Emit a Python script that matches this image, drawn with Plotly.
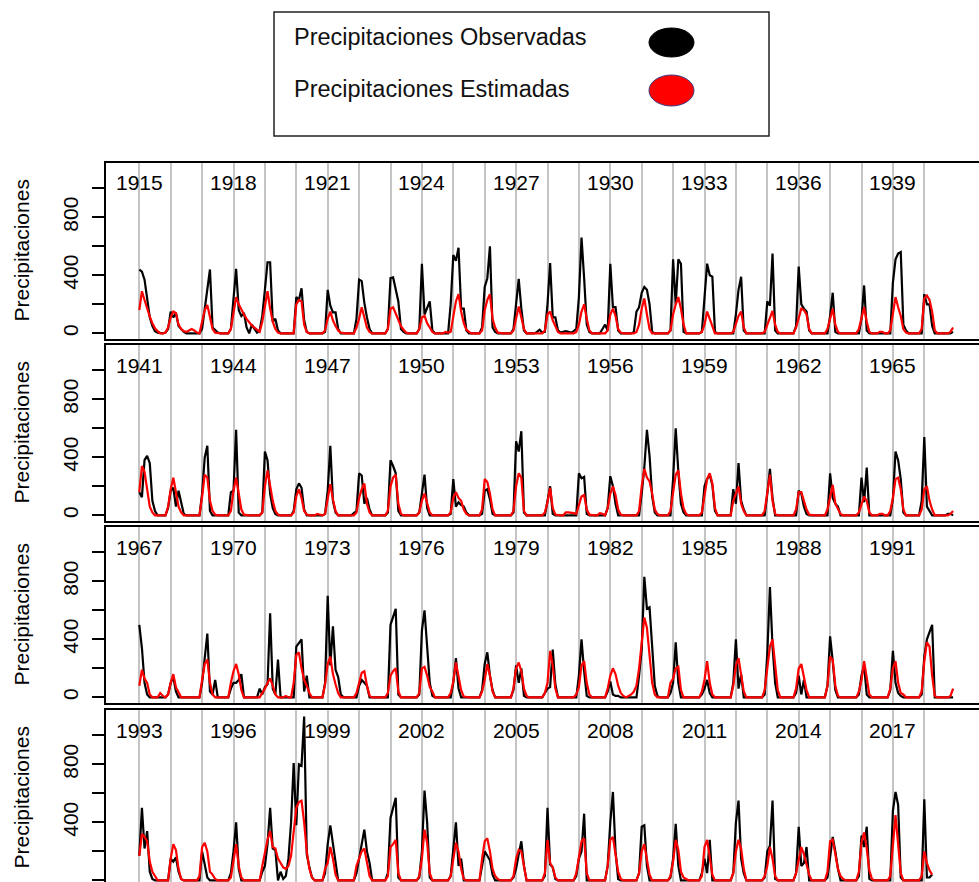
import plotly.graph_objects as go

# ---------------- data (monthly, Jan..Dec per row) ----------------
obs_1915_1940 = [
    440, 425, 370, 220, 110, 50, 15, 5, 0, 0, 5, 30,
    150, 110, 140, 50, 30, 10, 0, 0, 0, 0, 0, 0,
    30, 180, 300, 440, 40, 20, 5, 0, 0, 5, 0, 30,
    220, 445, 160, 120, 140, 40, 0, 60, 30, 5, 20, 120,
    300, 490, 490, 80, 100, 20, 0, 0, 0, 0, 0, 0,
    250, 230, 310, 90, 10, 0, 0, 0, 0, 0, 0, 10,
    300, 190, 145, 145, 30, 0, 0, 0, 0, 0, 0, 100,
    370, 360, 210, 110, 30, 0, 0, 0, 0, 0, 0, 30,
    380, 385, 300, 220, 30, 10, 0, 0, 0, 0, 0, 30,
    480, 130, 180, 220, 20, 0, 0, 0, 0, 0, 0, 200,
    540, 500, 590, 170, 170, 20, 0, 0, 0, 0, 0, 40,
    320, 380, 600, 40, 10, 0, 0, 0, 0, 0, 0, 30,
    210, 375, 170, 20, 0, 0, 0, 0, 10, 25, 5, 10,
    200, 485, 110, 110, 20, 5, 10, 15, 10, 5, 15, 30,
    250, 660, 380, 60, 10, 0, 0, 0, 0, 30, 60, 20,
    480, 180, 180, 20, 0, 0, 0, 0, 0, 10, 150, 180,
    280, 320, 300, 200, 10, 0, 0, 0, 0, 0, 0, 20,
    510, 200, 510, 480, 10, 0, 0, 0, 0, 0, 0, 10,
    250, 480, 400, 390, 10, 0, 0, 0, 0, 0, 0, 0,
    130, 300, 390, 20, 0, 0, 0, 0, 0, 0, 0, 0,
    220, 190, 550, 20, 0, 0, 0, 0, 0, 0, 0, 50,
    460, 200, 170, 150, 20, 0, 0, 0, 0, 0, 0, 0,
    120, 280, 10, 0, 0, 0, 0, 0, 0, 0, 0, 0,
    100, 330, 20, 0, 0, 0, 0, 0, 0, 0, 0, 0,
    350, 510, 550, 560, 60, 20, 0, 0, 0, 0, 0, 0,
    270, 200, 200, 50, 0, 0, 0, 0, 0, 0, 0, 10,
]
est_1915_1940 = [
    160, 290, 230, 170, 115, 70, 35, 15, 0, 0, 5, 40,
    110, 150, 140, 60, 30, 15, 10, 20, 30, 20, 5, 0,
    70, 160, 195, 100, 30, 5, 0, 0, 0, 0, 0, 30,
    150, 250, 200, 160, 130, 100, 75, 55, 40, 25, 10, 80,
    200, 290, 170, 80, 30, 5, 0, 0, 0, 0, 0, 0,
    200, 230, 220, 60, 10, 0, 0, 0, 0, 0, 0, 20,
    100, 150, 90, 50, 20, 5, 0, 0, 0, 0, 0, 40,
    100, 180, 100, 40, 10, 0, 0, 0, 0, 0, 0, 30,
    170, 180, 140, 90, 50, 25, 5, 0, 0, 0, 0, 30,
    110, 120, 70, 40, 10, 0, 0, 0, 0, 10, 5, 10,
    110, 220, 270, 150, 70, 25, 10, 0, 0, 0, 0, 20,
    160, 230, 270, 100, 40, 5, 0, 0, 0, 0, 0, 20,
    110, 185, 110, 30, 0, 0, 0, 0, 0, 0, 0, 20,
    130, 150, 90, 50, 10, 0, 0, 0, 0, 0, 0, 10,
    60, 150, 200, 100, 20, 0, 0, 0, 0, 0, 0, 20,
    130, 170, 120, 30, 5, 0, 0, 0, 0, 0, 10, 60,
    170, 240, 130, 30, 0, 0, 0, 0, 0, 0, 0, 20,
    130, 200, 250, 170, 60, 0, 0, 0, 0, 0, 0, 10,
    60, 150, 100, 40, 0, 0, 0, 0, 0, 0, 0, 10,
    60, 120, 150, 40, 0, 0, 0, 0, 0, 0, 0, 10,
    60, 100, 155, 60, 10, 0, 0, 0, 0, 0, 0, 40,
    100, 170, 160, 130, 30, 0, 0, 0, 0, 0, 0, 30,
    110, 170, 60, 10, 0, 0, 0, 0, 0, 0, 0, 30,
    100, 180, 80, 10, 0, 0, 0, 10, 10, 0, 0, 20,
    150, 250, 180, 120, 30, 5, 0, 0, 0, 0, 0, 30,
    240, 260, 230, 150, 20, 0, 0, 0, 0, 0, 10, 40,
]
obs_1941_1966 = [
    160, 125, 380, 410, 360, 100, 30, 0, 0, 0, 0, 50,
    170, 190, 60, 170, 100, 10, 0, 0, 0, 0, 0, 0,
    150, 400, 480, 30, 0, 0, 0, 0, 0, 0, 0, 160,
    170, 590, 20, 0, 0, 0, 0, 0, 0, 0, 0, 20,
    440, 380, 150, 50, 10, 0, 0, 0, 0, 0, 0, 30,
    180, 220, 190, 40, 0, 0, 0, 0, 0, 0, 0, 10,
    170, 480, 100, 20, 0, 0, 0, 0, 0, 0, 15, 30,
    290, 275, 80, 120, 40, 0, 0, 0, 0, 0, 0, 20,
    380, 340, 290, 30, 0, 0, 0, 0, 0, 0, 0, 20,
    150, 280, 50, 0, 0, 0, 0, 0, 0, 0, 0, 10,
    250, 60, 90, 70, 60, 20, 0, 0, 0, 0, 0, 10,
    170, 180, 110, 10, 0, 0, 0, 0, 0, 0, 0, 20,
    510, 440, 580, 20, 0, 0, 0, 0, 0, 0, 0, 0,
    100, 200, 10, 0, 0, 0, 0, 0, 0, 0, 0, 0,
    290, 255, 265, 10, 0, 0, 0, 0, 0, 0, 0, 50,
    270, 200, 80, 0, 0, 0, 0, 0, 0, 0, 0, 0,
    150, 330, 590, 410, 130, 20, 0, 0, 0, 0, 0, 0,
    250, 600, 300, 80, 20, 0, 0, 0, 0, 0, 0, 0,
    200, 250, 280, 210, 30, 0, 0, 0, 0, 0, 0, 180,
    80, 360, 100, 40, 0, 0, 0, 0, 0, 0, 0, 0,
    150, 320, 120, 0, 0, 0, 0, 0, 0, 0, 0, 0,
    170, 150, 60, 10, 0, 0, 0, 0, 0, 0, 0, 0,
    290, 120, 80, 60, 0, 0, 0, 0, 0, 0, 0, 0,
    260, 90, 330, 0, 0, 0, 0, 0, 0, 0, 0, 0,
    110, 440, 380, 250, 20, 0, 0, 0, 0, 0, 0, 100,
    540, 60, 30, 0, 0, 0, 0, 0, 0, 10, 10, 0,
]
est_1941_1966 = [
    160, 340, 300, 170, 60, 20, 0, 0, 0, 0, 0, 60,
    180, 260, 150, 60, 20, 0, 0, 0, 0, 0, 0, 0,
    130, 280, 260, 100, 30, 5, 0, 0, 0, 0, 0, 30,
    170, 260, 150, 40, 5, 0, 0, 0, 0, 0, 0, 20,
    200, 310, 200, 100, 30, 5, 0, 0, 0, 0, 0, 20,
    130, 180, 120, 30, 5, 0, 0, 0, 10, 5, 0, 10,
    120, 215, 110, 30, 0, 0, 0, 0, 0, 0, 0, 20,
    120, 180, 220, 80, 20, 0, 0, 0, 0, 0, 0, 30,
    200, 260, 280, 80, 10, 0, 0, 0, 0, 0, 0, 20,
    100, 150, 80, 20, 0, 0, 0, 0, 0, 0, 0, 20,
    120, 160, 120, 100, 40, 10, 0, 0, 0, 0, 0, 40,
    250, 230, 150, 40, 0, 0, 0, 0, 0, 0, 0, 30,
    200, 290, 260, 30, 0, 0, 0, 0, 0, 0, 0, 20,
    90, 190, 50, 5, 0, 0, 0, 20, 20, 20, 15, 10,
    80, 130, 140, 40, 5, 0, 0, 0, 15, 10, 0, 50,
    150, 200, 140, 40, 5, 0, 0, 0, 0, 0, 0, 30,
    200, 320, 260, 235, 150, 40, 10, 0, 0, 0, 0, 30,
    150, 280, 310, 150, 50, 10, 0, 0, 0, 0, 0, 20,
    140, 250, 290, 220, 50, 0, 0, 0, 0, 0, 0, 100,
    150, 200, 80, 30, 0, 0, 0, 0, 0, 0, 0, 30,
    140, 280, 100, 10, 0, 0, 0, 0, 0, 0, 0, 40,
    160, 160, 100, 40, 5, 0, 0, 0, 0, 0, 0, 40,
    120, 210, 80, 50, 10, 0, 0, 0, 0, 0, 0, 20,
    80, 130, 100, 20, 0, 0, 0, 10, 10, 0, 0, 30,
    120, 250, 260, 180, 40, 0, 0, 0, 0, 0, 0, 40,
    180, 200, 100, 40, 0, 0, 0, 0, 0, 0, 10, 30,
]
obs_1967_1992 = [
    500, 340, 100, 20, 0, 0, 0, 0, 5, 0, 0, 20,
    100, 140, 40, 0, 0, 0, 0, 0, 0, 0, 0, 0,
    100, 280, 440, 40, 20, 120, 0, 0, 0, 0, 0, 60,
    100, 100, 120, 160, 0, 0, 0, 0, 0, 0, 60, 20,
    70, 90, 580, 60, 20, 260, 0, 0, 0, 0, 0, 0,
    350, 380, 400, 40, 150, 0, 0, 0, 0, 0, 0, 100,
    700, 220, 490, 190, 140, 20, 0, 0, 0, 0, 0, 0,
    80, 120, 100, 80, 0, 0, 0, 0, 0, 0, 0, 0,
    500, 560, 610, 20, 0, 0, 0, 0, 0, 0, 0, 20,
    460, 600, 350, 100, 10, 0, 0, 0, 0, 0, 0, 0,
    100, 270, 60, 0, 0, 0, 0, 0, 0, 0, 0, 50,
    230, 310, 150, 50, 0, 0, 0, 0, 0, 0, 0, 50,
    220, 100, 200, 10, 0, 0, 0, 0, 0, 0, 0, 30,
    60, 70, 330, 90, 0, 0, 0, 0, 0, 0, 0, 0,
    150, 400, 180, 10, 0, 0, 0, 0, 0, 0, 0, 40,
    110, 20, 10, 10, 0, 0, 0, 0, 0, 0, 0, 150,
    330, 830, 610, 620, 350, 80, 10, 0, 0, 0, 0, 30,
    100, 380, 100, 0, 0, 0, 0, 0, 0, 0, 0, 20,
    60, 120, 30, 0, 0, 0, 0, 0, 0, 0, 0, 100,
    400, 60, 160, 0, 0, 0, 0, 0, 0, 0, 0, 20,
    300, 760, 350, 100, 0, 0, 0, 0, 0, 0, 0, 30,
    150, 20, 120, 0, 0, 0, 0, 0, 0, 0, 0, 80,
    420, 250, 50, 0, 0, 0, 0, 0, 0, 0, 0, 20,
    150, 220, 20, 0, 0, 0, 0, 0, 0, 0, 0, 50,
    320, 100, 30, 10, 0, 0, 0, 0, 0, 0, 0, 20,
    280, 400, 450, 500, 0, 0, 0, 0, 0, 0, 0, 0,
]
est_1967_1992 = [
    80, 190, 130, 100, 20, 0, 0, 0, 30, 10, 0, 20,
    100, 160, 70, 30, 0, 0, 0, 0, 0, 0, 0, 0,
    120, 230, 260, 100, 20, 0, 0, 0, 0, 0, 0, 100,
    180, 230, 160, 50, 0, 0, 0, 0, 0, 0, 0, 30,
    60, 100, 130, 80, 20, 0, 0, 0, 10, 0, 0, 100,
    290, 310, 200, 120, 80, 30, 0, 0, 0, 0, 0, 90,
    230, 280, 160, 90, 30, 0, 0, 0, 0, 0, 0, 30,
    100, 170, 180, 80, 10, 0, 0, 0, 0, 0, 0, 30,
    150, 180, 200, 40, 0, 0, 0, 0, 0, 0, 0, 30,
    200, 210, 150, 70, 40, 0, 0, 0, 0, 0, 0, 30,
    110, 240, 140, 50, 5, 0, 0, 0, 0, 0, 0, 40,
    120, 230, 150, 40, 0, 0, 0, 0, 0, 0, 0, 60,
    200, 240, 180, 60, 10, 0, 0, 0, 0, 0, 0, 30,
    100, 320, 220, 60, 0, 0, 0, 0, 0, 0, 0, 20,
    70, 220, 250, 100, 20, 0, 0, 0, 0, 0, 0, 60,
    150, 200, 160, 80, 30, 10, 0, 10, 20, 40, 80, 200,
    400, 550, 480, 300, 100, 20, 0, 0, 0, 0, 0, 100,
    130, 200, 210, 50, 0, 0, 0, 0, 0, 0, 0, 40,
    120, 250, 100, 20, 0, 0, 0, 0, 0, 0, 0, 80,
    220, 270, 150, 40, 0, 0, 0, 0, 0, 0, 0, 50,
    200, 350, 400, 200, 50, 0, 0, 0, 0, 0, 0, 60,
    200, 230, 150, 50, 0, 0, 0, 0, 0, 0, 0, 80,
    280, 260, 80, 10, 0, 0, 0, 0, 0, 0, 0, 40,
    120, 250, 120, 20, 0, 0, 0, 0, 0, 0, 0, 60,
    200, 250, 100, 30, 20, 0, 0, 0, 0, 0, 0, 40,
    250, 380, 350, 150, 10, 0, 0, 0, 0, 0, 10, 60,
]
obs_1993_2018 = [
    170, 500, 220, 340, 60, 10, 0, 0, 0, 0, 0, 0,
    150, 130, 160, 60, 10, 0, 0, 0, 0, 0, 0, 0,
    200, 100, 20, 0, 0, 0, 0, 0, 0, 0, 0, 50,
    200, 400, 80, 0, 0, 0, 0, 0, 0, 0, 0, 60,
    100, 250, 500, 220, 210, 0, 60, 10, 30, 150, 400, 810,
    380, 800, 790, 1130, 180, 90, 20, 0, 0, 0, 0, 50,
    250, 380, 250, 100, 0, 0, 0, 0, 0, 0, 0, 50,
    150, 250, 350, 200, 120, 0, 0, 0, 0, 0, 0, 50,
    430, 500, 570, 20, 0, 0, 0, 0, 0, 0, 0, 20,
    200, 620, 400, 20, 0, 0, 0, 0, 0, 0, 0, 30,
    200, 400, 100, 150, 0, 0, 0, 0, 0, 0, 0, 100,
    200, 170, 140, 40, 0, 0, 0, 0, 0, 0, 0, 20,
    80, 180, 270, 100, 0, 0, 0, 0, 0, 0, 0, 30,
    500, 110, 90, 10, 0, 0, 0, 0, 0, 0, 0, 30,
    150, 200, 460, 0, 0, 0, 0, 0, 0, 0, 0, 100,
    400, 610, 200, 10, 0, 0, 0, 0, 0, 0, 0, 50,
    370, 380, 100, 0, 0, 0, 0, 0, 0, 0, 0, 20,
    150, 390, 100, 0, 0, 0, 0, 0, 0, 0, 0, 50,
    150, 50, 280, 0, 0, 0, 0, 0, 0, 0, 0, 50,
    400, 550, 150, 50, 0, 0, 0, 0, 0, 0, 0, 20,
    200, 240, 550, 10, 0, 0, 0, 0, 0, 0, 0, 50,
    370, 100, 120, 230, 0, 0, 0, 0, 0, 0, 0, 20,
    150, 300, 200, 80, 0, 0, 0, 0, 0, 0, 0, 30,
    310, 230, 370, 10, 0, 0, 0, 0, 0, 0, 0, 0,
    480, 610, 520, 20, 0, 0, 0, 0, 0, 0, 0, 0,
    560, 20, 20, 40,
]
est_1993_2018 = [
    170, 320, 300, 270, 130, 60, 30, 0, 0, 0, 0, 0,
    150, 250, 210, 80, 10, 0, 0, 0, 0, 0, 0, 30,
    230, 260, 200, 60, 40, 10, 0, 0, 0, 0, 0, 20,
    140, 250, 100, 20, 0, 0, 0, 0, 0, 0, 0, 100,
    200, 280, 340, 230, 220, 150, 120, 90, 80, 100, 170, 350,
    500, 540, 550, 400, 200, 80, 20, 0, 0, 0, 0, 80,
    120, 230, 150, 40, 0, 0, 0, 0, 0, 0, 0, 100,
    150, 200, 220, 120, 30, 0, 0, 0, 0, 0, 0, 30,
    230, 250, 280, 50, 0, 0, 0, 0, 0, 0, 0, 30,
    150, 350, 260, 50, 0, 0, 0, 0, 0, 0, 0, 30,
    150, 260, 200, 80, 10, 0, 0, 0, 0, 0, 0, 150,
    270, 290, 200, 80, 30, 10, 0, 0, 0, 0, 0, 30,
    150, 210, 200, 100, 0, 0, 0, 0, 0, 0, 0, 50,
    280, 120, 90, 20, 0, 0, 0, 0, 0, 0, 0, 50,
    150, 270, 290, 50, 0, 0, 0, 0, 0, 0, 0, 100,
    280, 300, 180, 60, 10, 0, 0, 0, 0, 0, 0, 50,
    200, 250, 140, 40, 0, 0, 0, 0, 0, 0, 0, 30,
    130, 280, 210, 60, 20, 10, 0, 0, 0, 0, 0, 30,
    230, 280, 150, 40, 0, 0, 0, 0, 0, 0, 0, 50,
    200, 280, 220, 80, 0, 0, 0, 0, 0, 0, 0, 30,
    100, 230, 150, 30, 0, 0, 0, 0, 0, 0, 0, 50,
    150, 230, 180, 100, 40, 0, 0, 0, 0, 0, 0, 60,
    270, 280, 180, 80, 30, 10, 0, 0, 0, 0, 0, 60,
    260, 330, 220, 70, 10, 0, 0, 0, 0, 0, 0, 30,
    250, 450, 250, 50, 0, 0, 0, 0, 0, 0, 0, 30,
    200, 120, 70, 40,
]

start_years = [1915, 1941, 1967, 1993]
y_ticks = [0, 200, 400, 600, 800, 1000]
y_ticklabels = ["0", "", "400", "", "800", ""]
legend_labels = ["Precipitaciones Observadas", "Precipitaciones Estimadas"]
y_title = "Precipitaciones"

# ---------------- figure ----------------
W, H = 979, 882
FONT = "Liberation Sans, Arial, sans-serif"
panels = [
    (start_years[0], obs_1915_1940, est_1915_1940),
    (start_years[1], obs_1941_1966, est_1941_1966),
    (start_years[2], obs_1967_1992, est_1967_1992),
    (start_years[3], obs_1993_2018, est_1993_2018),
]
px_rows = [(163, 339), (345, 521), (527, 703), (710, 882)]
y_ranges = [[-39, 1174], [-39, 1174], [-39, 1174], [-11, 1175]]
x_left_px = 106
px_per_year = 31.4

fig = go.Figure()
layout = dict(
    width=W, height=H,
    margin=dict(l=0, r=0, t=0, b=0),
    paper_bgcolor="white", plot_bgcolor="white",
    showlegend=False,
    font=dict(family=FONT, size=21, color="black"),
)
annotations = []
shapes = []

for i, (y0, obs, est) in enumerate(panels):
    n = i + 1
    sfx = "" if n == 1 else str(n)
    xa, ya = "x" + sfx, "y" + sfx
    xs = [y0 + k / 12 for k in range(len(obs))]
    fig.add_trace(go.Scatter(x=xs, y=obs, mode="lines",
                             line=dict(color="black", width=2.2),
                             xaxis=xa, yaxis=ya, name=legend_labels[0]))
    fig.add_trace(go.Scatter(x=xs, y=est, mode="lines",
                             line=dict(color="red", width=2.2),
                             xaxis=xa, yaxis=ya, name=legend_labels[1]))
    top, bot = px_rows[i]
    dom = [1 - bot / H, 1 - top / H]
    x_start = y0 - (139.3 - x_left_px) / px_per_year
    x_end = y0 + (W - 139.3) / px_per_year
    last_year = int(xs[-1])
    layout["xaxis" + sfx] = dict(
        domain=[x_left_px / W, 1], range=[x_start, x_end], anchor=ya,
        tickvals=list(range(y0, last_year + 1)), showticklabels=False, ticks="",
        showgrid=True, gridcolor="#C4C4C4", gridwidth=2,
        showline=True, mirror=True, linecolor="black", linewidth=2,
        zeroline=False, fixedrange=True,
    )
    layout["yaxis" + sfx] = dict(
        domain=dom, range=y_ranges[i], anchor=xa,
        tickvals=y_ticks, ticktext=y_ticklabels, tickangle=-90,
        ticks="outside", ticklen=12, tickwidth=2, tickcolor="black",
        tickfont=dict(size=21, family=FONT, color="black"),
        ticklabelstandoff=6,
        showline=True, linecolor="black", linewidth=2,
        showgrid=False, zeroline=False,
    )
    ph = bot - top
    for yr in range(y0, y0 + 25, 3):
        annotations.append(dict(
            x=yr, y=1 - 20 / ph, xref=xa, yref=ya + " domain",
            text=str(yr), showarrow=False, xanchor="center", yanchor="middle",
            font=dict(size=21, family=FONT, color="black"),
        ))
    cy = (top + top + 176) / 2
    annotations.append(dict(
        x=20.5 / W, y=1 - cy / H, xref="paper", yref="paper",
        text=y_title, textangle=-90, showarrow=False,
        xanchor="center", yanchor="middle",
        font=dict(size=21, family=FONT, color="black"),
    ))


def px_x(v):
    return v / W


def px_y(v):
    return 1 - v / H


shapes.append(dict(type="rect", xref="paper", yref="paper",
                   x0=px_x(274), x1=px_x(769), y0=px_y(136), y1=px_y(12),
                   line=dict(color="#222222", width=1.5), fillcolor="white"))
shapes.append(dict(type="circle", xref="paper", yref="paper",
                   x0=px_x(649), x1=px_x(694), y0=px_y(57), y1=px_y(28),
                   line=dict(color="black", width=1), fillcolor="black"))
shapes.append(dict(type="circle", xref="paper", yref="paper",
                   x0=px_x(649), x1=px_x(694), y0=px_y(106), y1=px_y(75),
                   line=dict(color="#3c3c80", width=1), fillcolor="red"))
for lbl, cy in zip(legend_labels, [37, 89]):
    annotations.append(dict(
        x=px_x(292), y=px_y(cy), xref="paper", yref="paper", text=lbl,
        showarrow=False, xanchor="left", yanchor="middle",
        font=dict(size=23.5, family=FONT, color="#111111"),
    ))

layout["annotations"] = annotations
layout["shapes"] = shapes
fig.update_layout(**layout)
fig.write_html("out.html")
